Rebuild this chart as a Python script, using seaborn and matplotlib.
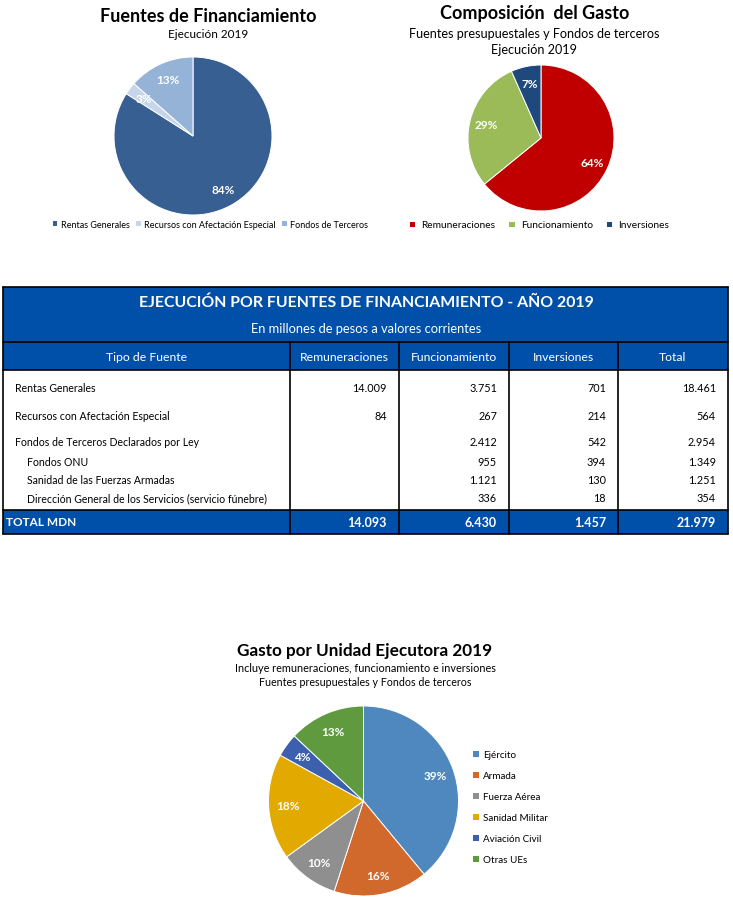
import numpy as np
import pandas as pd
import seaborn as sns
import matplotlib.pyplot as plt
from matplotlib.patches import Rectangle

# ------------------------------ data ------------------------------
fuentes = ["Rentas Generales", "Recursos con Afectación Especial", "Fondos de Terceros"]
fuentes_total = [18461, 564, 2954]

gasto_cats = ["Remuneraciones", "Funcionamiento", "Inversiones"]
gasto_total = [14093, 6430, 1457]

tabla_cols = ["Tipo de Fuente", "Remuneraciones", "Funcionamiento", "Inversiones", "Total"]
tabla_filas = ["Rentas Generales", "Recursos con Afectación Especial",
               "Fondos de Terceros Declarados por Ley", "Fondos ONU",
               "Sanidad de las Fuerzas Armadas",
               "Dirección General de los Servicios (servicio fúnebre)"]
remun = [14009, 84, None, None, None, None]
funcion = [3751, 267, 2412, 955, 1121, 336]
invers = [701, 214, 542, 394, 130, 18]
total = [18461, 564, 2954, 1349, 1251, 354]
totales_mdn = [14093, 6430, 1457, 21979]

unidades = ["Ejército", "Armada", "Fuerza Aérea", "Sanidad Militar", "Aviación Civil", "Otras UEs"]
unidades_pct = [39, 16, 10, 18, 4, 13]

# ------------------------------ style ------------------------------
sns.set_style("white")
plt.rcParams["font.family"] = ["Lato", "DejaVu Sans"]
plt.rcParams["text.color"] = "black"

W, H = 733, 904
fig = plt.figure(figsize=(W / 100, H / 100), dpi=100)


def px_axes(x0, y0, x1, y1):
    return fig.add_axes([x0 / W, 1 - y1 / H, (x1 - x0) / W, (y1 - y0) / H])


def px_text(x, y, s, **kw):
    fig.text(x / W, 1 - y / H, s, ha=kw.pop("ha", "center"), va=kw.pop("va", "center"), **kw)


def miles(v):
    return "" if v is None else f"{v:,}".replace(",", ".")


def draw_pie(ax, vals, colors, pctdist):
    wedges, _, autot = ax.pie(vals, colors=colors, startangle=90, counterclock=False,
                              autopct="%1.0f%%", pctdistance=pctdist,
                              wedgeprops=dict(edgecolor="white", linewidth=0.7),
                              textprops=dict(color="white", fontsize=8.5, fontweight="bold"))
    ax.set_xlim(-1, 1)
    ax.set_ylim(-1, 1)
    ax.axis("off")
    return wedges


# ------------------------------ Pie 1 ------------------------------
px_text(208, 16, "Fuentes de Financiamiento", fontsize=13, fontweight="bold")
px_text(208, 35, "Ejecución 2019", fontsize=8.5)
ax1 = px_axes(114, 58, 272, 216)
w1 = draw_pie(ax1, fuentes_total, ["#375F91", "#C6D5EA", "#95B3D7"], 0.78)
fig.legend(w1, fuentes, loc="center", bbox_to_anchor=(210 / W, 1 - 225 / H), ncol=3,
           frameon=False, fontsize=6.5, handlelength=0.6, handleheight=0.6,
           handletextpad=0.4, columnspacing=0.6)

# ------------------------------ Pie 2 ------------------------------
px_text(535, 14, "Composición  del Gasto", fontsize=13, fontweight="bold")
px_text(534, 34, "Fuentes presupuestales y Fondos de terceros", fontsize=9.1)
px_text(534, 50, "Ejecución 2019", fontsize=9.1)
ax2 = px_axes(468, 66, 614, 212)
w2 = draw_pie(ax2, gasto_total, ["#C00000", "#9BBB59", "#1F497D"], 0.77)
fig.legend(w2, gasto_cats, loc="center", bbox_to_anchor=(539 / W, 1 - 226 / H), ncol=3,
           frameon=False, fontsize=7.3, handlelength=0.6, handleheight=0.6,
           handletextpad=0.6, columnspacing=1.3)

# ------------------------------ Table ------------------------------
azul = "#0050AA"
col_edges = [3, 290, 399, 509, 618, 728]
y_top, y_sep1, y_sep2, y_body_end, y_bot = 288, 343, 371, 511, 535
fila_y = [388, 416, 443, 463, 481, 499]
fila_indent = [12, 12, 12, 24, 24, 24]

axt = px_axes(col_edges[0], y_top, col_edges[-1], y_bot)
axt.set_xlim(col_edges[0], col_edges[-1])
axt.set_ylim(y_bot, y_top)
axt.axis("off")
axt.add_patch(Rectangle((col_edges[0], y_top), col_edges[-1] - col_edges[0], y_sep2 - y_top,
                        facecolor=azul, edgecolor="none"))
axt.add_patch(Rectangle((col_edges[0], y_body_end), col_edges[-1] - col_edges[0], y_bot - y_body_end,
                        facecolor=azul, edgecolor="none"))
for yy in [y_top, y_sep1, y_sep2, y_body_end, y_bot]:
    axt.plot([col_edges[0], col_edges[-1]], [yy, yy], color="black", lw=1.2, clip_on=False)
for i, xx in enumerate(col_edges):
    top = y_top if i in (0, len(col_edges) - 1) else y_sep1
    axt.plot([xx, xx], [top, y_bot], color="black", lw=1.2, clip_on=False)

axt.text(366, 303, "EJECUCIÓN POR FUENTES DE FINANCIAMIENTO - AÑO 2019", color="white",
         fontsize=11.4, fontweight="bold", ha="center", va="center")
axt.text(366, 329, "En millones de pesos a valores corrientes", color="white",
         fontsize=9.3, ha="center", va="center")
for j, c in enumerate(tabla_cols):
    axt.text((col_edges[j] + col_edges[j + 1]) / 2, 357, c, color="white", fontsize=8.8,
             ha="center", va="center")

columnas = [remun, funcion, invers, total]
for i, fila in enumerate(tabla_filas):
    axt.text(col_edges[0] + fila_indent[i], fila_y[i], fila, fontsize=7.6, ha="left", va="center")
    for j, serie in enumerate(columnas):
        axt.text(col_edges[j + 2] - 12, fila_y[i], miles(serie[i]), fontsize=7.8,
                 ha="right", va="center")

axt.text(col_edges[0] + 3, 523, "TOTAL MDN", color="white", fontsize=8.5, fontweight="bold",
         ha="left", va="center")
for j, v in enumerate(totales_mdn):
    axt.text(col_edges[j + 2] - 12, 523, miles(v), color="white", fontsize=9,
             fontweight="bold", ha="right", va="center")

# ------------------------------ Pie 3 ------------------------------
px_text(365, 651, "Gasto por Unidad Ejecutora 2019", fontsize=12.3, fontweight="bold")
px_text(365, 669, "Incluye remuneraciones, funcionamiento e inversiones", fontsize=7.8)
px_text(365, 683, "Fuentes presupuestales y Fondos de terceros", fontsize=7.7)
ax3 = px_axes(268, 707, 459, 897)
w3 = draw_pie(ax3, unidades_pct,
              ["#4F88BE", "#D2692C", "#8F8F8F", "#E2A900", "#3C60AE", "#5F9A3F"], 0.8)
fig.legend(w3, unidades, loc="upper left", bbox_to_anchor=(472 / W, 1 - 751 / H), ncol=1,
           frameon=False, fontsize=7.1, handlelength=0.7, handleheight=0.7,
           handletextpad=0.4, labelspacing=1.22, borderaxespad=0, borderpad=0)

fig.savefig("out.png", dpi=100, facecolor="white")
